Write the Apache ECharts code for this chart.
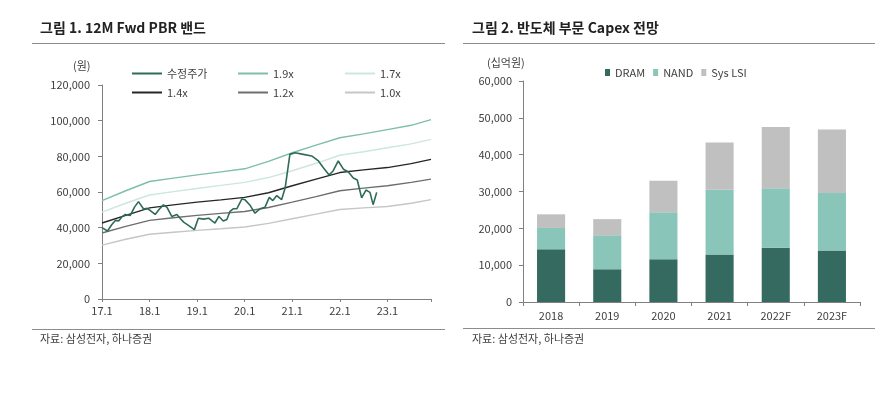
<!DOCTYPE html>
<html>
<head>
<meta charset="utf-8">
<script src="https://cdn.jsdelivr.net/npm/echarts@6/dist/echarts.min.js"></script>
<style>
html,body{margin:0;padding:0;background:#fff;}
#c{width:892px;height:393px;}
</style>
</head>
<body>
<div id="c"></div>
<script>
// ---- Left chart: 12M Fwd PBR band (x = months since 2017.1) ----
const xTickLabels = ['17.1','18.1','19.1','20.1','21.1','22.1','23.1'];
const priceMonth = [0,1.4,2.4,3.4,4.2,5.0,5.9,7.1,8.2,9.2,10.5,11.3,12.2,13.4,14.5,15.5,16.4,17.6,18.9,19.8,20.6,21.8,23.3,24.3,25.6,26.9,27.7,28.5,29.5,30.6,31.5,32.3,33.1,34.0,35.3,36.1,37.4,38.6,39.9,41.1,42.2,43.1,44.1,45.3,46.2,47.4,48.7,50.8,52.9,54.6,55.8,57.3,58.3,59.6,60.9,62.1,63.4,64.4,65.5,66.6,67.6,68.4,69.3];
const priceValue = [40000,38100,41500,44100,43800,46000,47400,46800,51500,54600,50500,50800,49600,47400,50500,52800,51400,46300,47400,45000,43100,41300,38900,45300,44800,45300,43900,42600,46300,43700,44600,49200,50600,50600,56100,55600,52400,48100,50600,51400,57000,55200,58000,55700,62200,81100,82000,81100,80200,77400,73700,69600,71800,77400,72800,71400,67800,66700,56700,61100,59800,52900,59800];
const bandMonth = [0,6,12,18,24,30,36,42,48,54,60,66,72,78,83];
const band19 = [55200,60700,65900,67800,69600,71300,73000,77200,82000,86300,90400,92600,95000,97400,100600];
const band17 = [48700,53700,58300,60200,62000,63700,65400,68100,71900,76100,80600,82600,84800,87000,89500];
const band14 = [42600,46900,51100,52800,54300,55600,57000,59600,63500,67200,70900,72400,73700,75900,78300];
const band12 = [37000,40700,44100,45600,46900,48000,49100,51300,54300,57400,60700,62200,63500,65400,67200];
const band10 = [30200,33500,36300,37400,38500,39400,40400,42400,45000,47600,50200,51100,51900,53700,55700];

// ---- Right chart: semiconductor capex (십억원) ----
const years = ['2018','2019','2020','2021','2022F','2023F'];
const dram = [14300,8900,11600,12900,14700,14000];
const nand = [5800,9200,12800,17600,16200,15600];
const sysLsi = [3700,4400,8500,12800,16600,17200];

const zip = (xs, ys) => xs.map((x, i) => [x, ys[i]]);
const FONT = '"Noto Sans CJK KR", "Noto Sans", sans-serif';
const TXT = '#404040';
const AX = '#808080';
const fmt = v => String(v).replace(/\B(?=(\d{3})+(?!\d))/g, ',');

const chart = echarts.init(document.getElementById('c'), null, {renderer: 'canvas'});

function band(name, data, color, width) {
  return {name, type: 'line', xAxisIndex: 0, yAxisIndex: 0, data: zip(bandMonth, data),
    symbol: 'none', lineStyle: {color, width}, itemStyle: {color}, animation: false, z: 2};
}

chart.setOption({
  animation: false,
  textStyle: {fontFamily: FONT},
  grid: [
    {left: 102, right: 461, top: 85, bottom: 94},
    {left: 523, right: 32, top: 81, bottom: 91}
  ],
  legend: [
    {left: 127, top: 63, orient: 'vertical', itemGap: 8, itemWidth: 30, itemHeight: 2, icon: 'rect',
     textStyle: {fontSize: 11, color: TXT, fontFamily: FONT}, data: ['수정주가','1.4x']},
    {left: 233, top: 63, orient: 'vertical', itemGap: 8, itemWidth: 30, itemHeight: 2, icon: 'rect',
     textStyle: {fontSize: 11, color: TXT, fontFamily: FONT}, data: ['1.9x','1.2x']},
    {left: 340, top: 63, orient: 'vertical', itemGap: 8, itemWidth: 30, itemHeight: 2, icon: 'rect',
     textStyle: {fontSize: 11, color: TXT, fontFamily: FONT}, data: ['1.7x','1.0x']},
    {left: 600, top: 62, orient: 'horizontal', itemGap: 8, itemWidth: 5, itemHeight: 7, icon: 'rect',
     textStyle: {fontSize: 11, color: TXT, fontFamily: FONT}, data: ['DRAM','NAND','Sys LSI']}
  ],
  xAxis: [
    {type: 'value', gridIndex: 0, min: 0, max: 83, interval: 12,
     axisLine: {lineStyle: {color: AX}}, axisTick: {show: true, length: 3, lineStyle: {color: AX}},
     splitLine: {show: false},
     axisLabel: {color: TXT, fontSize: 11, margin: 6,
       formatter: v => (v % 12 === 0 && v / 12 < xTickLabels.length) ? xTickLabels[v / 12] : ''}},
    {type: 'category', gridIndex: 1, data: years,
     axisLine: {lineStyle: {color: AX}}, axisTick: {show: true, length: 4, lineStyle: {color: AX}},
     axisLabel: {color: TXT, fontSize: 11, margin: 8}}
  ],
  yAxis: [
    {type: 'value', gridIndex: 0, min: 0, max: 120000, interval: 20000,
     axisLine: {show: true, lineStyle: {color: AX}}, axisTick: {show: true, length: 4, lineStyle: {color: AX}},
     splitLine: {show: false},
     axisLabel: {color: TXT, fontSize: 11, margin: 12, formatter: fmt}},
    {type: 'value', gridIndex: 1, min: 0, max: 60000, interval: 10000,
     axisLine: {show: true, lineStyle: {color: AX}}, axisTick: {show: true, length: 4, lineStyle: {color: AX}},
     splitLine: {show: false},
     axisLabel: {color: TXT, fontSize: 11, margin: 11, formatter: fmt}}
  ],
  series: [
    {name: '수정주가', type: 'line', xAxisIndex: 0, yAxisIndex: 0, data: zip(priceMonth, priceValue),
     symbol: 'none', lineStyle: {color: '#2f6b5b', width: 1.6}, itemStyle: {color: '#2f6b5b'}, z: 5},
    band('1.9x', band19, '#7dbfa8', 1.4),
    band('1.7x', band17, '#cde7dc', 1.4),
    band('1.4x', band14, '#262626', 1.4),
    band('1.2x', band12, '#6e6e6e', 1.4),
    band('1.0x', band10, '#c6c6c6', 1.4),
    {name: 'DRAM', type: 'bar', stack: 'capex', xAxisIndex: 1, yAxisIndex: 1, data: dram,
     barWidth: '50%', itemStyle: {color: '#356a60'}},
    {name: 'NAND', type: 'bar', stack: 'capex', xAxisIndex: 1, yAxisIndex: 1, data: nand,
     barWidth: '50%', itemStyle: {color: '#89c6b9'}},
    {name: 'Sys LSI', type: 'bar', stack: 'capex', xAxisIndex: 1, yAxisIndex: 1, data: sysLsi,
     barWidth: '50%', itemStyle: {color: '#c0c0c0'}}
  ],
  graphic: [
    {type: 'text', left: 40, top: 21, style: {text: '그림 1. 12M Fwd PBR 밴드', font: 'bold 14px ' + FONT, fill: '#222'}},
    {type: 'text', left: 472, top: 21, style: {text: '그림 2. 반도체 부문 Capex 전망', font: 'bold 14px ' + FONT, fill: '#222'}},
    {type: 'line', shape: {x1: 32, y1: 43.5, x2: 445, y2: 43.5}, style: {stroke: '#8c8c8c', lineWidth: 1}},
    {type: 'line', shape: {x1: 463, y1: 43.5, x2: 875, y2: 43.5}, style: {stroke: '#8c8c8c', lineWidth: 1}},
    {type: 'line', shape: {x1: 32, y1: 329.5, x2: 445, y2: 329.5}, style: {stroke: '#8c8c8c', lineWidth: 1}},
    {type: 'line', shape: {x1: 463, y1: 328.5, x2: 875, y2: 328.5}, style: {stroke: '#8c8c8c', lineWidth: 1}},
    {type: 'text', left: 40, top: 333, style: {text: '자료: 삼성전자, 하나증권', font: '11px ' + FONT, fill: TXT}},
    {type: 'text', left: 472, top: 333, style: {text: '자료: 삼성전자, 하나증권', font: '11px ' + FONT, fill: TXT}},
    {type: 'text', left: 73, top: 60, style: {text: '(원)', font: '11px ' + FONT, fill: TXT}},
    {type: 'text', left: 487, top: 57, style: {text: '(십억원)', font: '11px ' + FONT, fill: TXT}}
  ]
});
</script>
</body>
</html>
